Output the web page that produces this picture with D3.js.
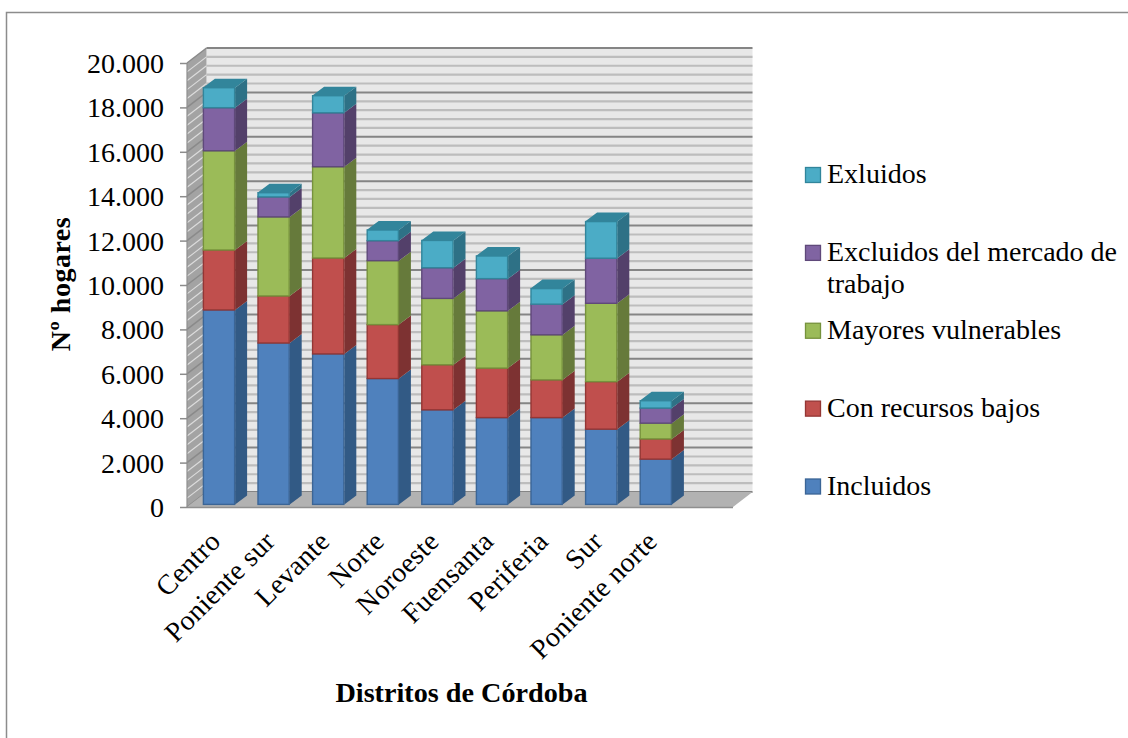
<!DOCTYPE html>
<html><head><meta charset="utf-8">
<style>
html,body{margin:0;padding:0;background:#fff}
svg{display:block}
text{font-family:"Liberation Serif",serif;fill:#000}
</style>
<script src="https://cdn.jsdelivr.net/npm/d3@7/dist/d3.min.js"></script>
</head><body><svg id="c" width="1128" height="738"></svg>
<script>
const districts=["Centro","Poniente sur","Levante","Norte","Noroeste","Fuensanta","Periferia","Sur","Poniente norte"];
const seriesNames=["Incluidos","Con recursos bajos","Mayores vulnerables","Excluidos del mercado de trabajo","Exluidos"];
const incluidos=[8760,7270,6780,5670,4260,3910,3910,3390,2040];
const conRecursos=[2700,2120,4320,2430,2030,2230,1700,2140,910];
const mayores=[4470,3560,4110,2880,2990,2580,2030,3530,710];
const excluidosMercado=[1940,900,2430,900,1380,1450,1380,2030,680];
const exluidos=[900,190,770,480,1230,1020,700,1650,330];
const yTicks=[0,2000,4000,6000,8000,10000,12000,14000,16000,18000,20000];
const frontColors=["#4f81bd","#c0504d","#9bbb59","#8064a2","#4bacc6"];
const sideColors=["#335a85","#7d3230","#667a3a","#533f6b","#2f7186"];
const edgeColors=["#3b6596","#943634","#76923c","#5f497a","#31859b"];
const topColor="#31859b";

const svg=d3.select("#c");
const defs=svg.append("defs");
defs.append("filter").attr("id","soft").append("feGaussianBlur").attr("stdDeviation",0.45);

svg.append("path").attr("d","M1128,12.5H6.5V738").attr("fill","none").attr("stroke","#8c8c8c").attr("stroke-width",1.5);

const wallDx=19.5, wallDy=15, barDx=4.7, barDy=-2.6, depthX=12, depthY=9;
const y=d3.scaleLinear().domain([0,20000]).range([507,63]);
const x=d3.scaleBand().domain([...districts,""]).range([187,733]).paddingInner(.41).paddingOuter(.205);
const rows=districts.map((d,i)=>({d,v0:incluidos[i],v1:conRecursos[i],v2:mayores[i],v3:excluidosMercado[i],v4:exluidos[i]}));
const stacked=d3.stack().keys(["v0","v1","v2","v3","v4"])(rows);

const plot=svg.append("g").attr("filter","url(#soft)");
const pts=a=>a.map(p=>p.join(",")).join(" ");
const x0=x.range()[0],x1=x.range()[1],yB=y(0),yT=y(20000);

plot.append("polygon").attr("points",pts([[x0+wallDx,yT-wallDy],[x1+wallDx,yT-wallDy],[x1+wallDx,yB-wallDy],[x0+wallDx,yB-wallDy]])).attr("fill","#e8e8e8");
plot.append("polygon").attr("points",pts([[x0,yT],[x0+wallDx,yT-wallDy],[x0+wallDx,yB-wallDy],[x0,yB]])).attr("fill","#a3a3a3");
const minor=d3.range(0,20001,400);
plot.selectAll(".side").data(minor).join("line").attr("class","side")
  .attr("x1",x0).attr("x2",x0+wallDx).attr("y1",d=>y(d)).attr("y2",d=>y(d)-wallDy)
  .attr("stroke",d=>d%2000?"#dcdcdc":"#8a8a8a").attr("stroke-width",d=>d%2000?1.2:1.5);
plot.selectAll(".minor").data(minor.filter(d=>d%2000)).join("line").attr("class","minor")
  .attr("x1",x0+wallDx).attr("x2",x1+wallDx).attr("y1",d=>y(d)-wallDy).attr("y2",d=>y(d)-wallDy)
  .attr("stroke","#bdbdbd").attr("stroke-width",2.2);
plot.selectAll(".major").data(yTicks).join("line").attr("class","major")
  .attr("x1",x0+wallDx).attr("x2",x1+wallDx).attr("y1",d=>y(d)-wallDy).attr("y2",d=>y(d)-wallDy)
  .attr("stroke","#858585").attr("stroke-width",2);
plot.append("polygon").attr("points",pts([[x0,yB],[x0+wallDx,yB-wallDy],[x1+wallDx,yB-wallDy],[x1,yB]])).attr("fill","#b2b2b2");
plot.append("line").attr("x1",x0).attr("x2",x1).attr("y1",yB+.5).attr("y2",yB+.5).attr("stroke","#8f8f8f").attr("stroke-width",1.5);
plot.append("line").attr("x1",x0).attr("x2",x0).attr("y1",yT).attr("y2",yB).attr("stroke","#8f8f8f").attr("stroke-width",1.2);

const w=x.bandwidth();
stacked.forEach((s,si)=>{
  const g=plot.append("g");
  s.forEach((seg,i)=>{
    const bx=x(districts[i])+barDx, ya=y(seg[0])+barDy, yb=y(seg[1])+barDy;
    g.append("polygon").attr("points",pts([[bx+w,ya],[bx+w+depthX,ya-depthY],[bx+w+depthX,yb-depthY],[bx+w,yb]]))
      .attr("fill",sideColors[si]);
    if(si===stacked.length-1){
      g.append("polygon").attr("points",pts([[bx,yb],[bx+depthX,yb-depthY],[bx+w+depthX,yb-depthY],[bx+w,yb]]))
        .attr("fill",topColor);
    }
    g.append("rect").attr("x",bx+.5).attr("y",yb).attr("width",w-1).attr("height",ya-yb)
      .attr("fill",frontColors[si]).attr("stroke",edgeColors[si]).attr("stroke-width",1.4);
  });
});

const loc=d3.formatLocale({decimal:",",thousands:".",grouping:[3],currency:["",""]});
const axis=d3.axisLeft(y).tickValues(yTicks).tickSize(7).tickPadding(16).tickFormat(loc.format(",d"));
const ay=svg.append("g").attr("transform",`translate(${x0},0)`).call(axis);
ay.select(".domain").remove();
ay.selectAll("line").attr("stroke","#8c8c8c").attr("stroke-width",1.5);
ay.selectAll("text").attr("font-size",28).attr("font-family","Liberation Serif").attr("fill","#000").attr("dy","0.34em");

svg.append("g").selectAll("text").data(districts).join("text")
  .attr("text-anchor","end").attr("font-size",28).attr("letter-spacing",.25)
  .attr("transform",d=>`translate(${x(d)+w/2+barDx+3},${yB+36}) rotate(-45)`)
  .text(d=>d);

svg.append("text").attr("text-anchor","middle").attr("font-weight","bold").attr("font-size",28.2)
  .attr("x",461.5).attr("y",702).text("Distritos de Córdoba");
svg.append("text").attr("text-anchor","middle").attr("font-weight","bold").attr("font-size",28).attr("letter-spacing",.5)
  .attr("transform","translate(70,284) rotate(-90)").text("Nº hogares");

const legendLines=[["Exluidos"],["Excluidos del mercado de","trabajo"],["Mayores vulnerables"],["Con recursos bajos"],["Incluidos"]];
const legendY=d3.scaleLinear().domain([0,4]).range([183,494.5]);
const lg=svg.append("g");
legendLines.forEach((lines,i)=>{
  const si=seriesNames.length-1-i, by=legendY(i);
  lg.append("rect").attr("x",805.5).attr("y",by-15.5).attr("width",15).attr("height",15)
    .attr("fill",frontColors[si]).attr("stroke",edgeColors[si]).attr("stroke-width",1.3);
  lines.forEach((t,k)=>lg.append("text").attr("x",827).attr("y",by+k*32).attr("font-size",28).text(t));
});
</script></body></html>
